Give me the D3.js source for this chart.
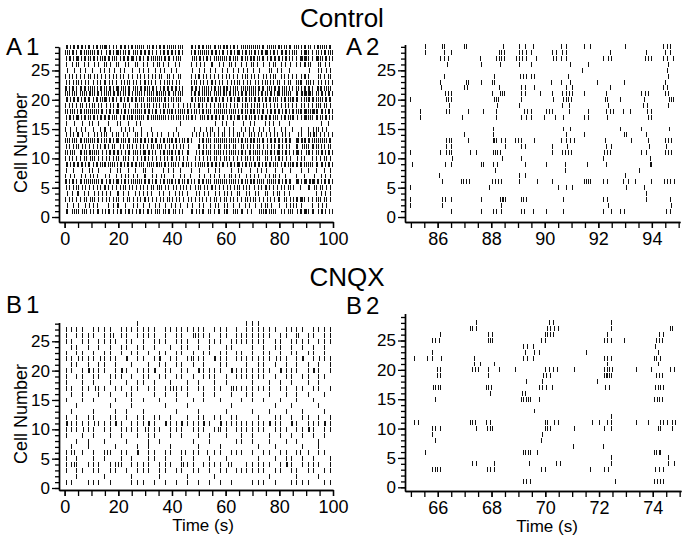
<!DOCTYPE html>
<html>
<head>
<meta charset="utf-8">
<script src="https://cdn.jsdelivr.net/npm/d3@7"></script>
<style>
body { margin: 0; background: #fff; }
svg text { font-family: "Liberation Sans", Arial, Helvetica, sans-serif; fill: #000; }
</style>
</head>
<body>
<svg width="684" height="541"></svg>
<script>
// raster plots of spontaneous firing, control vs CNQX

// A1: control, 0-100 s. one string per cell (cell 1 first), one char per 0.5 s bin, 1 = spike
var binWidth = 0.5;
var controlBins = [
  "0110010110 1001101001 0100110010 1011001001 0110010110 1001011010 0110100101 1001010110 0110010100 0000110010 1011000110 0100110001 1100010110 0110001001 0000011011 1010110100 0101001011 0001011011 1100110001 0110100101",
  "0010001000 1000010010 0100100000 0010001001 1000010000 0100100010 0001000100 1000010001 0010001000 0100010000 1001000010 0010100001 0100010000 1000100100 0010001001 0100100000 1000010010 1010001000 0000100001 0010010000",
  "1001010010 0100101001 1010010010 0101001010 1001001010 0100101001 1010010010 0101001010 1001010010 0010100100 1010010010 0101001001 1001010010 0100101010 1010010010 0101001001 1001010010 1011011110 0100100101 1001010010",
  "0010010001 1000100100 0010010010 0100100001 1001000100 0010010010 0100100000 1001000010 0010010100 0100000010 1000100100 0010010001 0100100010 1000010100 0010100001 0100010010 1001000100 0000000000 0000000100 0100100010",
  "0101001010 1001010010 0100101001 1010010010 0101010010 1001001010 0100101001 1010010100 0101001010 1001000101 0100101001 1010010010 0101001010 1001010100 0100101001 1010010010 0101001010 1000010000 0110001100 1010010010",
  "1101011010 0110101101 1011010110 0101101011 1010110101 0110110101 1011010110 0101101011 1010110101 0110101001 1011010110 0101101101 1010110101 0110101011 1101011010 0110110101 1010110110 0011101011 1011111011 0101101101",
  "1000100100 0010010001 0100100000 1001000010 0010010100 0100100001 1000010010 0010100000 0100001001 0001000000 1000100010 0100010001 0010100100 1000010010 0100100001 0010010100 1000100000 0010000010 0000001000 0100100010",
  "0100001000 0001000010 1000010000 0000100001 0100000100 0010000010 1000010000 0001000100 0100001000 0000100000 1000000100 0010010000 0000100001 0100000010 0001001000 1000000100 0010000010 0000001000 0100000100 0001000010",
  "0110101101 1011010110 0101101011 1010110101 0110101101 1011010110 0101101011 1010110101 0110100110 1010100101 0110101101 1011010110 0101101011 1010110101 0110110101 1011010110 0101101011 1011011010 1101100110 0110101101",
  "1001010010 0100101001 1010010010 0101001010 1001010100 0100100101 1010010010 0100101001 1001010010 0100000100 1001001010 0101001001 1010010010 0100101010 1001010001 0100100101 1010010010 0001001010 0000100100 1001010010",
  "1010110100 0110101011 1011010010 0101101101 1010010110 0110101011 1011010100 0101101011 1010110100 0110000010 1011010110 0101101010 1010110101 0110100110 1011010101 0101101011 1010110100 1011101000 1110100101 0110101101",
  "0101001010 1001010010 0100101001 1010010100 0101001010 1001001010 0100101001 1010010010 0101001010 0010000001 1001010010 0100101001 1010010100 0101001010 1001010010 0100101001 1010010100 0011000110 1100110101 0101001010",
  "1011010110 0110101101 1010110101 0101101011 1011010110 0110101101 1010110110 0101101011 1011010101 0110100000 1011010110 0101101101 1010110101 0110101011 1101010110 0101101101 1010110110 0011101111 0110101101 1011010110",
  "0100101001 1001000100 0010100101 0100010010 1001001000 0010100100 0100010001 0010000100 0100100000 0000010010 1001001010 0100100101 0010010010 1001000101 0100101000 1001001010 0010100100 0000101000 0101011100 1001001001",
  "1000100010 0010010000 0100001001 1000100000 0010010010 0100000100 0000100000 0000000000 0001000000 0000001000 0100010010 1000100001 0010010000 0100100100 1000010010 0010001000 0100100001 0000001000 0100010101 0010010000",
  "0100000100 0001000010 1000010000 0010000001 0100000100 0001001000 0000000000 0000000000 0000001000 0000000000 0000000000 0010000100 1000010000 0001000010 0100000001 0010010000 1000000100 0000000000 0000000000 0100001000",
  "0101101011 1010110101 0110101101 1011010110 0101101011 1010110110 0110101101 1011010101 0101101010 1010110100 0110101101 1011010110 0101101011 1010110101 0110101101 1011010110 0101101011 1001001011 1101100110 1010110101",
  "1010110101 0110101101 1011010110 0101101011 1010110101 0110110101 1011010110 0101101011 1010101101 0110101010 1011010110 0101101101 1010110101 0110101011 1101010110 0101101101 1010110101 1010111011 1101111110 0110101101",
  "1001010010 0101001010 1010010100 0100101001 1001010010 0010100101 0101001010 1001010100 0100100010 0101001001 1010010010 0100101010 1001001010 0010101001 0101010010 1001001010 0100101001 0010001010 0100100101 1001010010",
  "0110101101 1010110110 0101101011 1101011010 0110101101 1011010110 0101101101 1010110101 0101101000 0000110101 0110101101 1011010110 0101101011 1010110101 0110110101 1011010110 0101101011 1011001010 1110110101 1010110110",
  "1011010110 0101101011 1010110101 0110101101 1101010110 1010110101 0101101011 1011010110 0110101100 0000101101 1010110110 0101101011 1011010101 0110110101 1010101101 0101101011 1011011010 0011001111 1111100101 0110101101",
  "1101011010 0110110101 1010101101 0101101011 1011010110 0110101101 1101011010 0101101101 1011010100 0000110110 1010110101 0110101011 1101010110 0101101101 1010110110 0110101101 1011010101 0010101011 0110100011 1101011010",
  "0101001010 1010010100 0100101001 1001010010 0010101010 0101001001 1010100100 0100101010 1001010000 0000101010 0101001001 1010010100 0100101010 1001001010 0010100101 0101010010 1001001010 0010111000 1101010001 0100101001",
  "1001010010 0100100101 0010100100 1001001010 0101000100 1000101001 0010010100 1010001010 0100101000 0000100101 1001010010 0100100100 1010010010 0010101001 0100100010 1001010100 0101001001 0010001011 0100000001 1001001010",
  "0010000100 0100010000 1000001001 0001000100 0100100000 1000010010 0010000100 0100100001 0001000000 0000010000 1000100010 0010000100 0100010001 0001001000 1000010000 0010100010 0100000100 0000000000 0010000001 0100010010",
  "0100010010 1000100100 0010010001 0100100010 1000010100 0010100010 0100001001 1001000100 0010010000 0000100010 0100100001 1000010010 0010100100 0100010001 1001000010 0010010100 0100100010 0010010011 0101000001 1000100100",
  "0101101011 1010110101 0110101011 1011010110 0101101101 1101011010 0110101101 1010110110 0101101000 0000011010 1101011010 0101101101 1011010110 0110101011 1101010110 0101101101 1010110101 0010011111 1100100111 1010110101",
  "1011011010 0110101101 1010110100 0101101011 1101010110 0110101101 1011010010 0101101101 1010110100 0000101101 0110110101 1011010110 0101101011 1010110101 0110101101 1101011010 0110110101 0110001011 1100100101 0101101011",
  "0110101101 1011010110 0101101011 1101001010 0110110101 1010110110 0101011010 1101101011 0110101100 0000110101 1011010110 0110101011 1101011010 0101101101 1011010110 0110110101 1101010110 0110101011 0101001011 1011010110"
];

// A2: control, spike times (s) between 85 and 95, cell 1 first
var controlZoom = [
  "86.5 87.62 88.08 88.2 88.37 89.14 89.23 89.58 90.07 90.7 92.19 92.5 92.84 92.97 94.56 94.68",
  "85.0 86.19 88.37 92.38 94.75",
  "85.0 86.19 86.31 86.52 87.65 88.35 88.41 88.47 88.52 89.14 89.22 89.3 90.7 92.19 92.34 93.8 94.68",
  "93.8",
  "85.0 87.93 90.51 90.82 91.05 93.07 93.71",
  "86.19 86.9 86.98 87.07 87.2 88.05 88.16 88.27 88.39 89.05 89.74 90.3 91.47 91.55 91.63 91.72 92.19 92.34 92.94 93.13 93.38 94.0 94.46 94.58 94.7 94.83",
  "86.06 89.05 89.27 93.0",
  "88.17 90.76 93.54",
  "85.07 86.31 86.5 87.65 87.7 88.1 88.23 89.27 90.07 90.76 91.6 92.32 93.94 94.0",
  "86.56 88.42 89.14 92.19 93.94",
  "85.0 86.09 86.34 86.43 86.52 87.23 87.46 88.08 88.16 88.25 88.33 90.3 90.67 90.78 90.9 91.0 92.23 92.33 92.44 93.63 93.79 94.5 94.62 94.75",
  "86.34 86.52 88.52 89.14 89.27 90.29 90.86 92.32 92.5 93.91 94.54",
  "86.34 86.43 86.52 87.15 88.08 88.14 88.2 88.39 88.52 88.9 89.02 89.14 89.62 90.64 90.8 90.95 91.11 92.26 93.25 93.88 94.5 94.62 94.75",
  "87.02 88.1 90.82 91.5 92.97 93.07 93.8",
  "88.08 90.7 90.95 92.82 93.63 94.66",
  "",
  "85.36 86.92 88.18 89.14 89.32 89.5 90.0 90.39 90.7 91.5 91.63 92.35 93.88 94.0",
  "85.36 86.34 86.46 87.17 87.7 88.18 89.23 89.36 89.5 90.07 90.18 90.3 90.91 91.63 92.32 92.45 92.57 92.94 93.19 93.85 94.0",
  "86.46 88.24 89.04 90.67 90.92 92.38 93.69 93.84 94.62",
  "85.0 86.34 86.42 86.5 88.14 88.2 88.27 89.14 90.33 90.7 90.8 90.9 91.0 92.26 92.35 92.84 93.71 94.66 94.73 94.8",
  "86.3 86.41 86.52 88.03 88.33 88.42 88.5 89.14 89.27 89.85 90.3 90.67 90.8 90.92 91.05 91.5 92.32 93.63 93.75 93.88 94.5 94.62",
  "86.15 87.02 87.12 88.3 89.14 89.27 89.62 90.82 91.05 92.44 94.44 94.6",
  "86.09 87.06 87.17 87.62 88.05 88.14 90.24 90.64 90.95 91.98 92.97 94.5",
  "86.27 88.14 89.08 89.2 89.33 89.5 89.6 90.88 94.62",
  "91.42 94.6",
  "86.37 87.65 88.33 89.05 89.5 90.95 91.63 94.62",
  "86.1 86.25 86.4 87.6 88.2 88.3 88.4 88.5 88.95 89.05 89.18 89.3 89.68 90.33 90.45 90.64 90.82 92.2 92.38 92.5 93.75 93.88 94.0 94.44 94.6 94.8",
  "85.56 86.25 86.5 88.3 88.4 88.5 89.05 89.17 89.3 89.5 90.3 90.42 90.67 90.82 92.47 93.8 94.5 94.7",
  "85.56 86.19 86.27 87.0 87.08 88.45 89.05 89.27 89.58 90.64 90.82 91.5 91.7 93.0 94.44 94.57 94.7"
];

// B1: CNQX, network bursts (s) and which cells fire in each burst (1 char per burst, groups of 7)
var cnqxBurstTimes = [0.6, 2.5, 4.4, 6.6, 8.8, 10.9, 12.8, 14.9, 17.0, 19.1, 21.2, 23.0, 25.1, 27.2,
  29.3, 31.2, 33.4, 35.5, 37.4, 39.6, 41.7, 43.6, 45.8, 47.9, 49.8, 51.9, 54.0, 55.9, 58.1, 60.2,
  62.0, 64.0, 65.9, 67.8, 69.9, 72.3, 74.2, 76.3, 78.4, 80.3, 82.5, 84.6, 86.5, 88.6, 90.7, 92.6,
  94.7, 96.8, 98.9];
var cnqxBursts = [
  "1100111 0100011 1010101 0101010 1010001 1101001 1110011",
  "0010000 1000010 0001000 0100001 0000000 0010000 1000100",
  "1011011 0110101 1101101 1011010 1101111 1101101 1011011",
  "1110111 0111011 1101110 1110111 1010011 1110111 0111101",
  "1010010 1001010 0110100 1010010 0100000 1001011 0101001",
  "1101010 1101101 0110110 1011001 1011101 0110110 1010110",
  "0100100 0010001 0100010 0001000 1000000 1001000 0100100",
  "0010100 1000100 0101000 0010010 0001101 0010010 1000100",
  "1001010 0101001 0110010 1001010 0100101 0010101 0101010",
  "1110110 1101111 0111011 1011101 1101111 1101110 1111011",
  "1111101 1111011 1110111 1111110 1111111 1111101 1011111",
  "1010110 0110101 1011010 0101101 1011000 1001101 0110101",
  "0100010 0010100 1000001 0001000 0100001 0010010 0100010",
  "0010000 0100010 0000100 0100000 0010000 0001001 0000100",
  "1001010 0010010 1001001 0010100 1000101 0100100 1001000",
  "0101001 0100110 0010101 0100101 0010011 0010010 1010010",
  "1101101 1011011 0110111 1101101 1011111 1110110 1101101",
  "1001010 0100101 1010010 0101001 0100001 0010101 0010100",
  "1011011 0111010 1101101 1010111 0101111 1101011 0110110",
  "1101111 1011101 1110110 1101111 1011111 1110111 1011101",
  "0110101 1010010 0101101 1010100 1100010 1101010 1010101",
  "1101110 1110101 1011011 0111101 1101111 1110110 1101011",
  "1011010 1101011 0101101 1010110 1101101 0110101 1011010",
  "0110101 0101101 1010010 1101010 0110001 0101101 0101010",
  "1101101 1110110 1011101 1101011 1011111 1101101 1110111",
  "1011110 1101101 1110101 1011110 1101111 1110110 1011011",
  "1111011 1101111 1110111 1111101 1101011 1111011 1101111",
  "0000000 0000001 0000000 0000000 0000011 1000000 0000000"
];
// spikes outside the bursts
var cnqxExtra = {
  4: "3.6 20.0 44.3 61.1 83.2",
  6: "3.5 15.9 27.6 45.2 53.3 88.0",
  10: "7.2 30.0 57.4 91.3",
  11: "1.0 11.2 19.5 31.6 37.8 44.0 52.3 58.5 76.7 84.9 91.0 97.2",
  17: "11.6 40.4 63.0",
  20: "9.2 21.6 33.8 50.2 62.4 80.7 93.0",
  22: "5.0 13.2 23.4 35.9 47.1 56.3 78.8 88.9 95.1",
  26: "18.1 48.6 87.3"
};

// B2: CNQX, spike times (s) between 65 and 75, cell 1 first
var cnqxZoom = [
  "69.2 69.3 69.45 72.6 74.05 74.17 74.28 74.4",
  "",
  "65.8 65.9 66.0 66.1 67.86 67.95 68.1 69.85 70.0 71.7 72.2 72.35 74.1 74.25 74.4",
  "67.3 67.45 68.1 69.4 70.4 70.55 72.45 74.6 74.8",
  "72.45 74.57",
  "65.55 69.2 69.28 69.36 69.45 69.7 74.05 74.15 74.25 74.3",
  "71.05 72.17",
  "65.9 69.85",
  "65.8 69.9",
  "65.8 65.9 66.1 67.45 67.86 67.95 68.04 70.0 70.1 70.2 71.1 72.2 72.45 74.2 74.3 74.75",
  "65.13 65.3 67.2 67.3 67.4 67.8 67.95 70.0 70.1 70.35 70.5 71.75 72.0 72.3 72.45 73.4 73.85 74.3 74.4 74.55 74.75 74.85",
  "72.45",
  "69.6",
  "",
  "65.9 69.1 69.2 69.3 69.38 69.45 69.8 74.07 74.16 74.26 74.35",
  "67.95 69.15 69.25",
  "65.85 65.93 66.02 66.1 67.8 67.9 68.0 69.8 69.9 70.05 70.27 72.25 72.4 74.1 74.2 74.3 74.4",
  "69.3 69.9 71.95",
  "66.0 66.1 67.9 69.95 70.05 70.2 72.2 72.27 72.33 72.4 72.45 74.15 74.25 74.35",
  "66.0 66.1 67.3 67.4 67.5 67.9 68.3 68.9 70.0 70.15 70.3 70.45 71.1 72.2 72.3 72.4 72.5 73.4 73.95 74.65 74.8",
  "67.35 67.6 68.1 72.3 74.2",
  "65.13 65.63 65.8 66.15 67.35 69.2 69.35 69.55 72.2 72.3 72.45 74.05 74.15 74.3",
  "65.8 69.25 69.6 69.8 71.55 74.2",
  "69.2 69.35 69.55 74.1",
  "65.8 65.93 66.05 67.9 67.97 68.05 69.85 70.0 72.2 72.32 72.45 72.95 74.15 74.25 74.35",
  "66.1 67.9 68.05 70.0 70.1 70.2 70.3 72.3 74.25 74.4",
  "67.2 67.3 67.45 70.1 70.2 70.35 70.5 72.45 74.65 74.75",
  "67.45 70.15 70.3 72.45"
];

var yMajorTicks = [0, 5, 10, 15, 20, 25];
var overviewTicks = [0, 20, 40, 60, 80, 100];
var controlZoomTicks = [86, 88, 90, 92, 94];
var cnqxZoomTicks = [66, 68, 70, 72, 74];

// ---- turn the strings into {cell, t} records
function fromBins(rows) {
  var out = [];
  rows.forEach(function(s, i) {
    var bits = s.replace(/ /g, "");
    for (var j = 0; j < bits.length; j++) {
      if (bits[j] === "1") out.push({cell: i + 1, t: j * binWidth + binWidth / 2});
    }
  });
  return out;
}
function fromTimes(rows) {
  var out = [];
  rows.forEach(function(s, i) {
    s.split(" ").filter(v => v !== "").forEach(function(v) { out.push({cell: i + 1, t: +v}); });
  });
  return out;
}
function fromBursts(rows, times, extra) {
  var out = [];
  rows.forEach(function(s, i) {
    var bits = s.replace(/ /g, "");
    for (var k = 0; k < bits.length; k++) {
      if (bits[k] === "1") out.push({cell: i + 1, t: times[k]});
    }
  });
  Object.keys(extra).forEach(function(c) {
    extra[c].split(" ").forEach(function(v) { out.push({cell: +c, t: +v}); });
  });
  return out;
}

var svg = d3.select("svg");

function drawPanel(p) {
  var x = d3.scaleLinear().domain(p.xDomain).range(p.xRange);
  var y = d3.scaleLinear().domain(p.yDomain).range(p.yRange);
  var g = svg.append("g");

  g.append("g").attr("shape-rendering", "crispEdges").selectAll("line")
    .data(p.spikes.filter(d => d.t >= p.xDomain[0] && d.t <= p.xDomain[1]))
    .enter().append("line")
      .attr("x1", d => x(d.t)).attr("x2", d => x(d.t))
      .attr("y1", d => y(d.cell - 0.42)).attr("y2", d => y(d.cell + 0.42))
      .attr("stroke", "#111").attr("stroke-width", 1);

  // y axis: a minor tick for every cell, labelled ticks every 5
  var yMinor = g.append("g").attr("transform", "translate(" + p.xRange[0] + ",0)")
    .call(d3.axisLeft(y).tickValues(d3.range(0, Math.floor(p.yDomain[1]) + 1)).tickSize(4).tickSizeOuter(0).tickFormat(""));
  var yMajor = g.append("g").attr("transform", "translate(" + p.xRange[0] + ",0)")
    .call(d3.axisLeft(y).tickValues(yMajorTicks).tickSize(7).tickPadding(2).tickSizeOuter(0));

  var xMinor = g.append("g").attr("transform", "translate(0," + p.yRange[0] + ")")
    .call(d3.axisBottom(x).tickValues(p.minorTicks).tickSize(6).tickSizeOuter(0).tickFormat(""));
  var xMajor = g.append("g").attr("transform", "translate(0," + p.yRange[0] + ")")
    .call(d3.axisBottom(x).tickValues(p.majorTicks).tickSize(6).tickPadding(4).tickSizeOuter(0));

  [yMinor, yMajor, xMinor, xMajor].forEach(function(a) {
    a.selectAll("path").attr("stroke", "#000").attr("stroke-width", 1.4);
    a.selectAll("line").attr("stroke", "#000").attr("stroke-width", 1.3);
    a.selectAll("text").attr("font-family", null);
  });
  yMajor.selectAll("text").attr("font-size", 17);
  xMajor.selectAll("text").attr("font-size", 18);

  svg.append("text").attr("x", p.labelX).attr("y", p.labelY)
    .attr("font-size", 24).attr("letter-spacing", 4).text(p.label);
  if (p.yTitle) {
    svg.append("text")
      .attr("transform", "translate(21," + p.yTitleY + ") rotate(-90)")
      .attr("text-anchor", "middle").attr("dy", "0.35em")
      .attr("font-size", 18).text("Cell Number");
  }
  if (p.xTitle) {
    svg.append("text").attr("x", p.xTitleX).attr("y", p.xTitleY)
      .attr("text-anchor", "middle").attr("font-size", 17).text("Time (s)");
  }
}

var controlSpikes = fromBins(controlBins);
var cnqxSpikes = fromBursts(cnqxBursts, cnqxBurstTimes, cnqxExtra);

drawPanel({
  spikes: controlSpikes, xDomain: [-2.1, 100], xRange: [59, 333],
  yDomain: [-0.85, 29], yRange: [222, 47],
  majorTicks: overviewTicks, minorTicks: d3.range(0, 101, 5),
  label: "A1", labelX: 6, labelY: 55, yTitle: true, yTitleY: 143
});
drawPanel({
  spikes: fromTimes(controlZoom), xDomain: [84.78, 95.05], xRange: [405, 680],
  yDomain: [-0.85, 29.4], yRange: [222, 44.5],
  majorTicks: controlZoomTicks, minorTicks: d3.range(85, 95.01, 0.5),
  label: "A2", labelX: 346, labelY: 55
});
drawPanel({
  spikes: cnqxSpikes, xDomain: [-2.1, 100], xRange: [59, 333],
  yDomain: [-0.34, 28.2], yRange: [490, 322.5],
  majorTicks: overviewTicks, minorTicks: d3.range(0, 101, 5),
  label: "B1", labelX: 6, labelY: 313, yTitle: true, yTitleY: 414,
  xTitle: true, xTitleX: 203, xTitleY: 531
});
drawPanel({
  spikes: fromTimes(cnqxZoom), xDomain: [64.78, 75.05], xRange: [405, 681],
  yDomain: [-0.63, 29.6], yRange: [491, 313.5],
  majorTicks: cnqxZoomTicks, minorTicks: d3.range(65, 75.01, 0.5),
  label: "B2", labelX: 346, labelY: 314,
  xTitle: true, xTitleX: 547, xTitleY: 532
});

svg.append("text").attr("x", 342).attr("y", 27).attr("text-anchor", "middle")
  .attr("font-size", 26).text("Control");
svg.append("text").attr("x", 347).attr("y", 286).attr("text-anchor", "middle")
  .attr("font-size", 26).text("CNQX");
</script>
</body>
</html>
